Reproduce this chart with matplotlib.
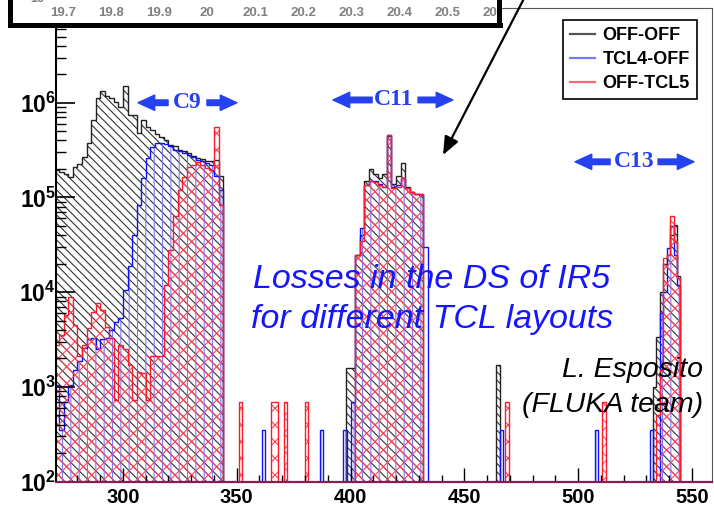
import numpy as np
import matplotlib
matplotlib.use('Agg')
import matplotlib.pyplot as plt
from matplotlib import transforms as mtransforms
from matplotlib.lines import Line2D
from matplotlib.ticker import FixedLocator, FixedFormatter, LogLocator, MultipleLocator, NullFormatter

plt.rcParams['font.family'] = ['Liberation Sans', 'DejaVu Sans']
plt.rcParams['mathtext.fontset'] = 'custom'
plt.rcParams['mathtext.rm'] = 'Liberation Sans:bold'
plt.rcParams['mathtext.bf'] = 'Liberation Sans:bold'
plt.rcParams['hatch.linewidth'] = 0.8

labels = ['OFF-OFF', 'TCL4-OFF', 'OFF-TCL5']

# C9 cell, 2 m bins starting at 270 m
c9_start = 270.0
c9_bin = 2.0
off_c9 = [1.95e5, 1.86e5, 1.78e5, 1.66e5, 2.09e5, 2.24e5, 2.69e5, 3.8e5, 6.6e5, 1.12e6,
          1.32e6, 1.17e6, 1.12e6, 1.02e6, 9.1e5, 1.51e6, 7.4e5, 7.4e5, 4.8e5, 6.5e5,
          5.6e5, 5.1e5, 4.7e5, 4.4e5, 4.0e5, 3.6e5, 3.5e5, 3.2e5, 3.1e5, 2.95e5,
          2.75e5, 2.6e5, 2.57e5, 2.4e5, 2.4e5, 2.5e5, 1.7e5, 0]
tcl4_c9 = [1.05e3, 3.5e2, 6.9e2, 1.05e3, 1.5e3, 1.9e3, 2.6e3, 3.2e3, 3.3e3, 2.5e3,
           3.2e3, 3.3e3, 4.0e3, 4.9e3, 5.4e3, 1.05e4, 1.9e4, 4.0e4, 8.3e4, 1.6e5,
           2.6e5, 3.4e5, 3.8e5, 3.8e5, 3.7e5, 3.5e5, 3.2e5, 3.1e5, 2.95e5, 2.8e5,
           2.7e5, 2.5e5, 2.4e5, 2.3e5, 2.2e5, 1.7e5, 1.2e5, 0]
tcl5_c9 = [2.8e3, 3.5e3, 5.7e3, 8.9e3, 4.5e3, 2.1e3, 2.8e3, 4.2e3, 6.2e3, 7.7e3,
           6.5e3, 4.3e3, 3.3e3, 7.3e2, 2.8e3, 2.5e3, 1.7e3, 7.3e2, 1.45e3, 1.4e3,
           7.3e2, 2.1e3, 2.1e3, 2.1e3, 1.2e4, 2.8e4, 6.3e4, 1.2e5, 1.65e5, 2.1e5,
           2.2e5, 2.35e5, 2.2e5, 2.05e5, 1.95e5, 5.5e5, 8.3e4, 0]

# C11 cell, 2 m bins starting at 398 m
c11_start = 398.0
c11_bin = 2.0
off_c11 = [1.6e3, 1.6e3, 2.5e4, 4.0e4, 1.5e5, 2.0e5, 1.75e5, 1.6e5, 1.75e5, 4.6e5,
           1.4e5, 1.7e5, 2.3e5, 1.3e5, 1.15e5, 1.1e5, 1.1e5, 0]
tcl4_c11 = [0, 7.0e2, 2.5e4, 4.8e4, 1.35e5, 1.5e5, 1.5e5, 1.4e5, 1.3e5, 4.5e5,
            1.3e5, 1.35e5, 1.6e5, 1.25e5, 1.15e5, 1.1e5, 1.05e5, 3.0e4]
tcl5_c11 = [0, 0, 2.5e4, 3.5e4, 1.35e5, 1.5e5, 1.45e5, 1.35e5, 1.3e5, 4.6e5,
            1.25e5, 1.3e5, 1.6e5, 1.25e5, 1.15e5, 1.1e5, 1.1e5, 0]

# C13 cell, 1.5 m bins starting at 531.5 m
c13_start = 531.5
c13_bin = 1.5
off_c13 = [0, 1.0e3, 3.4e3, 1.0e4, 2.0e4, 2.5e4, 4.0e4, 5.1e4, 1.5e4]
tcl4_c13 = [3.5e2, 0, 0, 6.0e3, 1.0e4, 2.9e4, 5.0e4, 2.5e4, 1.2e4]
tcl5_c13 = [0, 0, 5.0e2, 1.5e3, 2.3e4, 2.5e4, 6.3e4, 3.5e4, 1.4e4]

# isolated single-bin losses (bin start, value), 1.5 m wide
spike_bin = 1.5
off_spike_x = [464.0]
off_spike_y = [1.7e3]
tcl4_spike_x = [360.9, 386.6, 396.8, 465.5, 507.5]
tcl4_spike_y = [3.5e2, 3.5e2, 3.5e2, 3.5e2, 3.5e2]
tcl5_spike_x = [350.8, 365.0, 366.5, 370.8, 380.0, 468.0, 510.7]
tcl5_spike_y = [6.9e2, 6.9e2, 6.9e2, 6.9e2, 6.9e2, 6.9e2, 6.9e2]

inset_ticks = [19.7, 19.8, 19.9, 20.0, 20.1, 20.2, 20.3, 20.4, 20.5, 20.6]

FLOOR = 1.0


def build(segments, sx, sy):
    bars = []
    for start, width, vals in segments:
        for i, v in enumerate(vals):
            if v > 0:
                bars.append((start + i * width, start + (i + 1) * width, v))
    for x, v in zip(sx, sy):
        bars.append((x, x + spike_bin, v))
    bars.sort()
    edges = [bars[0][0]]
    vals = []
    for lo, hi, v in bars:
        if lo > edges[-1] + 1e-9:
            vals.append(FLOOR)
            edges.append(lo)
        vals.append(v)
        edges.append(hi)
    return np.array(edges), np.array(vals)


series = [
    (build([(c9_start, c9_bin, off_c9), (c11_start, c11_bin, off_c11), (c13_start, c13_bin, off_c13)],
           off_spike_x, off_spike_y), '#222222', '#333333', '\\\\\\\\'),
    (build([(c9_start, c9_bin, tcl4_c9), (c11_start, c11_bin, tcl4_c11), (c13_start, c13_bin, tcl4_c13)],
           tcl4_spike_x, tcl4_spike_y), '#1010ff', '#7a7aff', '||'),
    (build([(c9_start, c9_bin, tcl5_c9), (c11_start, c11_bin, tcl5_c11), (c13_start, c13_bin, tcl5_c13)],
           tcl5_spike_x, tcl5_spike_y), '#ff1a2a', '#ff4455', 'xx'),
]

fig = plt.figure(figsize=(7.14, 5.12), dpi=100)
ax = fig.add_axes([56 / 714, 30.3 / 512, 656 / 714, 473.7 / 512])
ax.set_yscale('log')

for k, ((edges, vals), line_c, hatch_c, hatch) in enumerate(series):
    ax.stairs(vals, edges, baseline=FLOOR, fill=True, facecolor='none',
              edgecolor=hatch_c, hatch=hatch, linewidth=0, zorder=1 + 0.2 * k)
    ax.stairs(vals, edges, baseline=FLOOR, fill=False, edgecolor=line_c,
              linewidth=1.0, zorder=1.1 + 0.2 * k)

ax.set_xlim(270.55, 558.9)
ax.set_ylim(1e2, 1e7)

ax.xaxis.set_major_locator(MultipleLocator(50))
ax.xaxis.set_minor_locator(MultipleLocator(10))
ax.yaxis.set_major_locator(FixedLocator([1e2, 1e3, 1e4, 1e5, 1e6]))
ax.yaxis.set_major_formatter(FixedFormatter([r'$\mathbf{10^{%d}}$' % e for e in range(2, 7)]))
ax.yaxis.set_minor_locator(LogLocator(base=10, subs=np.arange(2, 10)))
ax.yaxis.set_minor_formatter(NullFormatter())
ax.tick_params(axis='y', which='major', direction='in', length=13.5, width=1.2, pad=0, labelsize=16.5)
ax.tick_params(axis='y', which='minor', direction='in', length=7, width=1.0)
ax.tick_params(axis='x', which='major', direction='in', length=10, width=1.0, pad=4.5, labelsize=14.5)
ax.tick_params(axis='x', which='minor', direction='in', length=5, width=1.0)
for lab in ax.get_xticklabels():
    lab.set_fontweight('bold')

ax.spines['left'].set_linewidth(1.5)
ax.spines['bottom'].set_linewidth(1.6)
ax.spines['bottom'].set_color('#8a1c4f')
ax.spines['top'].set_linewidth(0.8)
ax.spines['top'].set_color('#555555')
ax.spines['right'].set_linewidth(0.8)
ax.spines['right'].set_color('#555555')

# legend
handles = [Line2D([], [], color='#555555', lw=1.6),
           Line2D([], [], color='#7777ff', lw=1.6),
           Line2D([], [], color='#ff6677', lw=1.6)]
leg = ax.legend(handles, labels, loc='upper right', bbox_to_anchor=(697 / 714, 1 - 20 / 512),
                bbox_transform=fig.transFigure, fancybox=False, edgecolor='black', framealpha=1,
                borderaxespad=0, prop={'weight': 'bold', 'size': 13}, handlelength=1.4,
                handletextpad=0.4, labelspacing=0.38, borderpad=0.4)
leg.get_frame().set_linewidth(1.2)

# cell markers
cblue = '#2541f0'
arrow_style = 'simple,head_length=1.2,head_width=1.1,tail_width=0.4'
cells = [('C9', 328.4, 1.0e6, 306.6, 319.8, 336.9, 350.1),
         ('C11', 418.9, 1.07e6, 392.3, 409.5, 429.7, 445.0),
         ('C13', 524.6, 2.38e5, 498.7, 514.1, 535.2, 551.0)]
for name, xc, yc, lh, lt, rt, rh in cells:
    ax.text(xc, yc, name, ha='center', va='center', color=cblue, fontsize=17,
            fontweight='bold', family='Liberation Serif')
    for tail, head in [(lt, lh), (rt, rh)]:
        ax.annotate('', xy=(head, yc), xytext=(tail, yc),
                    arrowprops=dict(arrowstyle=arrow_style, color=cblue, mutation_scale=10,
                                    shrinkA=0, shrinkB=0))

ax.text(435.8, 1.37e4, 'Losses in the DS of IR5', ha='center', va='center',
        color='#1515ff', fontsize=24.5, style='italic')
ax.text(435.8, 5.1e3, 'for different TCL layouts', ha='center', va='center',
        color='#1515ff', fontsize=24.5, style='italic')
ax.text(554.9, 1.51e3, 'L. Esposito', ha='right', va='center', color='black',
        fontsize=20.5, style='italic')
ax.text(554.9, 6.5e2, '(FLUKA team)', ha='right', va='center', color='black',
        fontsize=20.5, style='italic')

# clipped inset picture at the top
axin = fig.add_axes([9.5 / 714, (512 - 24.5) / 512, 490 / 714, 0.3])
axin.set_xlim(19.589, 20.6075)
axin.set_xticks([])
axin.set_yticks([])
for sp in axin.spines.values():
    sp.set_linewidth(3.6)
    sp.set_color('black')
trans = mtransforms.blended_transform_factory(axin.transData, fig.transFigure)
for v in inset_ticks:
    axin.text(v, 1 - 13.5 / 512, '%g' % v, transform=trans, ha='center', va='center',
              fontsize=9.5, fontweight='bold', color='#808080', clip_on=True, zorder=1)
fig.text(37 / 714, 1 - 5 / 512, '10', ha='center', va='bottom', fontsize=9,
         fontweight='bold', color='#808080')

# pointer from the inset down to C11
ax.annotate('', xy=(443, 357), xytext=(531, 527), xycoords='figure pixels',
            textcoords='figure pixels', annotation_clip=False, zorder=10,
            arrowprops=dict(arrowstyle='-|>,head_length=1.1,head_width=0.45',
                            color='black', lw=1.6, shrinkA=0, shrinkB=0))

fig.savefig('out.png', dpi=100)
